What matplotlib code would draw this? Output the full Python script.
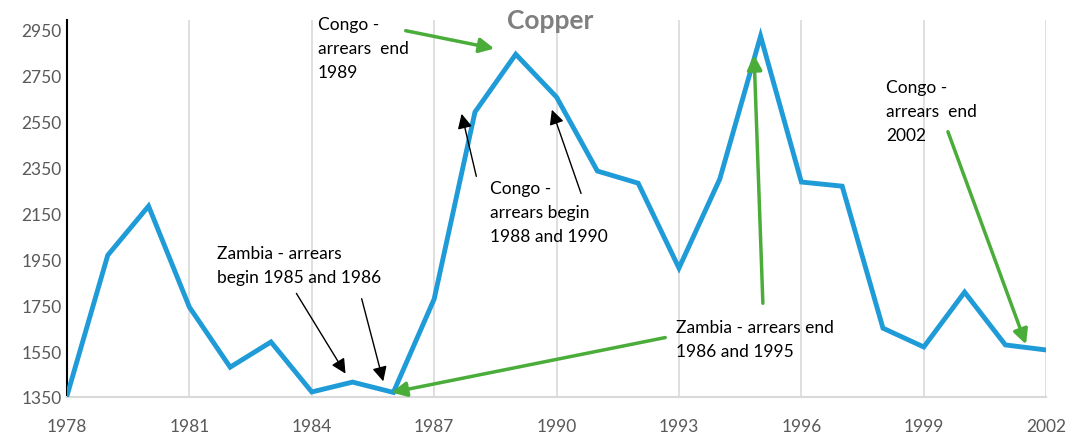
import matplotlib
matplotlib.use("Agg")
import matplotlib.pyplot as plt
import numpy as np

# copper price series
years = list(range(1978, 2003))
price = [1355, 1968, 2182, 1742, 1480, 1590, 1372, 1415, 1370, 1777,
         2592, 2844, 2657, 2335, 2282, 1912, 2300, 2923, 2287, 2269,
         1650, 1568, 1807, 1577, 1555]

xticks = list(range(1978, 2003, 3))
yticks = list(range(1350, 3000, 200))

plt.rcParams['font.family'] = ['Lato', 'DejaVu Sans']

blue = '#1f9bd7'
green = '#4aad3a'
grey = '#7f7f7f'

fig = plt.figure(figsize=(10.73, 4.39), dpi=100)
ax = fig.add_axes([0.0624, 0.0934, 0.9126, 0.8586])

ax.plot(years, price, color=blue, lw=3.5, solid_joinstyle='miter', zorder=3)

ax.set_xlim(1978, 2002)
ax.set_ylim(1350, 2993)
ax.set_xticks(xticks)
ax.set_yticks(yticks)
ax.tick_params(axis='both', length=0, labelsize=12.5, colors='#595959')
ax.tick_params(axis='x', pad=15)
ax.tick_params(axis='y', pad=4)
ax.grid(axis='x', color='#d9d9d9', lw=1.2)
ax.set_axisbelow(True)

for s in ['top', 'right']:
    ax.spines[s].set_visible(False)
ax.spines['left'].set_color('black')
ax.spines['left'].set_linewidth(1.5)
ax.spines['bottom'].set_color('#d9d9d9')
ax.spines['bottom'].set_linewidth(1.5)

fig.text(0.5125, 0.952, 'Copper', ha='center', va='center', fontsize=19,
         fontweight='bold', color=grey)

# pixel -> data helpers for annotation placement
def px(x, y):
    return (1978 + (x - 67) / 40.8, 1350 + (398 - y) / 45.9 * 200)

txt = dict(fontsize=12.5, color='black', linespacing=1.6, va='top', ha='left')
black_arrow = dict(arrowstyle='-|>', color='black', lw=1, mutation_scale=22)
green_arrow = dict(arrowstyle='-|>', color=green, lw=2.5, mutation_scale=22)

ax.text(*px(318, 17), 'Congo -\narrears  end\n1989', **txt)
ax.annotate('', xy=px(497, 50), xytext=px(403, 31), arrowprops=green_arrow)

ax.text(*px(490, 181), 'Congo -\narrears begin\n1988 and 1990', **txt)
ax.annotate('', xy=px(461, 112), xytext=px(477, 180), arrowprops=black_arrow)
ax.annotate('', xy=px(551, 108), xytext=px(582, 197), arrowprops=black_arrow)

ax.text(*px(217, 246), 'Zambia - arrears\nbegin 1985 and 1986', **txt)
ax.annotate('', xy=px(347, 377), xytext=px(295, 292), arrowprops=black_arrow)
ax.annotate('', xy=px(384, 385), xytext=px(361, 297), arrowprops=black_arrow)

ax.text(*px(676, 320), 'Zambia - arrears end\n1986 and 1995', **txt)
ax.annotate('', xy=px(389, 394), xytext=px(668, 338), arrowprops=green_arrow)
ax.annotate('', xy=px(754, 53), xytext=px(763, 307), arrowprops=green_arrow)

ax.text(*px(886, 80), 'Congo -\narrears  end\n2002', **txt)
ax.annotate('', xy=px(1027, 348), xytext=px(947, 130), arrowprops=green_arrow)

fig.savefig('out.png', dpi=100)
